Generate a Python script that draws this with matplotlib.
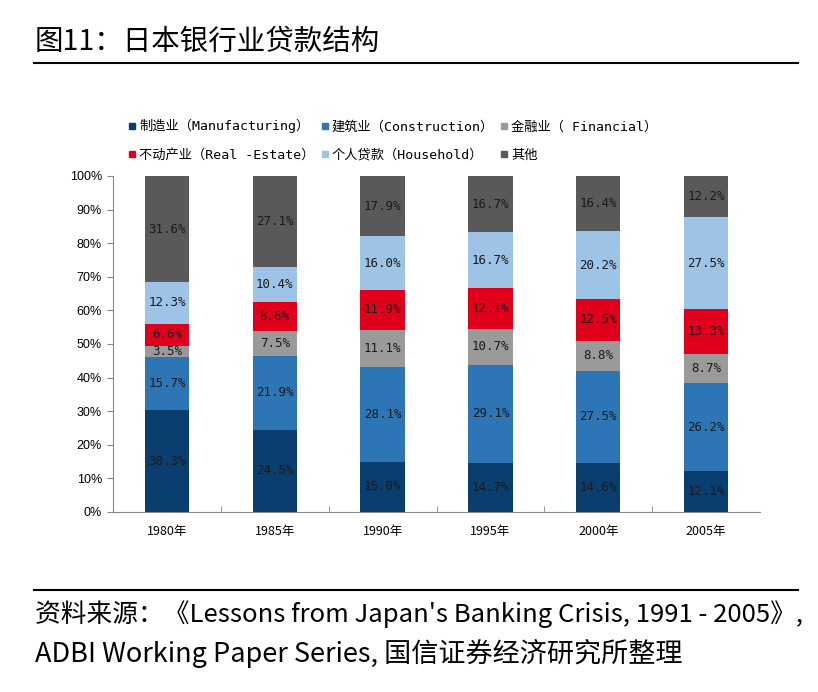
import matplotlib
matplotlib.use("Agg")
import matplotlib.pyplot as plt
from matplotlib.lines import Line2D
import numpy as np

plt.rcParams['font.family'] = ['Noto Sans CJK SC', 'DejaVu Sans']

years = ["1980年", "1985年", "1990年", "1995年", "2000年", "2005年"]
series_names = ["制造业（Manufacturing）", "建筑业（Construction）", "金融业（ Financial）",
                "不动产业（Real -Estate）", "个人贷款（Household）", "其他"]
manufacturing = [30.3, 24.5, 15.0, 14.7, 14.6, 12.1]
construction = [15.7, 21.9, 28.1, 29.1, 27.5, 26.2]
financial = [3.5, 7.5, 11.1, 10.7, 8.8, 8.7]
real_estate = [6.6, 8.6, 11.9, 12.1, 12.5, 13.3]
household = [12.3, 10.4, 16.0, 16.7, 20.2, 27.5]
other = [31.6, 27.1, 17.9, 16.7, 16.4, 12.2]
yticks = [0, 10, 20, 30, 40, 50, 60, 70, 80, 90, 100]

series = [manufacturing, construction, financial, real_estate, household, other]
colors = ["#0a3e6e", "#2e75b6", "#9a9a9a", "#e0001b", "#9dc3e6", "#595959"]

MONO = ['DejaVu Sans Mono', 'Noto Sans CJK SC']

fig = plt.figure(figsize=(8.18, 6.92), dpi=100)
fig.patch.set_facecolor("white")

ax = fig.add_axes([113/818, 1-512/692, 647/818, 336/692])
x = np.arange(len(years))
bottom = np.zeros(len(years))
for vals, col, name in zip(series, colors, series_names):
    v = np.array(vals)
    ax.bar(x, v, bottom=bottom, width=0.41, color=col, label=name, zorder=2)
    for xi, b, vi in zip(x, bottom, v):
        ax.text(xi, b + vi/2, f"{vi:.1f}%", ha="center", va="center",
                fontsize=9, color="#1a1a1a", family=MONO)
    bottom += v

ax.set_xlim(-0.5, len(years)-0.5)
ax.set_ylim(0, 100)
ax.set_yticks(yticks)
ax.set_yticklabels([f"{t}%" for t in yticks], fontsize=9, family=["Liberation Sans"])
ax.set_xticks(x)
ax.set_xticklabels(years, fontsize=9)
ax.tick_params(axis="x", length=0, pad=9)
ax.set_xticks(np.arange(len(years)-1)+0.5, minor=True)
ax.tick_params(axis="x", which="minor", direction="in", length=4, color="#888888")
ax.tick_params(axis="y", length=4, color="#888888", direction="out", pad=4)
for s in ["top", "right"]:
    ax.spines[s].set_visible(False)
for s in ["left", "bottom"]:
    ax.spines[s].set_color("#888888")

handles = [Line2D([0], [0], marker="s", linestyle="none", markersize=5,
                  markerfacecolor=c, markeredgecolor=c) for c in colors]
order = [0, 3, 1, 4, 2, 5]
fig.legend([handles[i] for i in order], [series_names[i] for i in order], ncol=3,
           loc="upper left", bbox_to_anchor=(128/818, 1-119/692), frameon=False,
           prop={"family": MONO, "size": 9.5},
           handlelength=0.6, handletextpad=0.25, columnspacing=0.45,
           labelspacing=1.15, borderaxespad=0, borderpad=0)

fig.text(35/818, 1-42/692, "图11：日本银行业贷款结构", fontsize=20.5, va="center", ha="left")
fig.add_artist(Line2D([34/818, 798/818], [1-63/692, 1-63/692], color="black", lw=1.5))
fig.add_artist(Line2D([34/818, 798/818], [1-590/692, 1-590/692], color="black", lw=1.5))
fig.text(35/818, 1-614/692, "资料来源：《Lessons from Japan's Banking Crisis, 1991 - 2005》,",
         fontsize=18.5, va="center", ha="left")
fig.text(35/818, 1-653/692, "ADBI Working Paper Series, 国信证券经济研究所整理",
         fontsize=19.5, va="center", ha="left")

fig.savefig("out.png", dpi=100)
